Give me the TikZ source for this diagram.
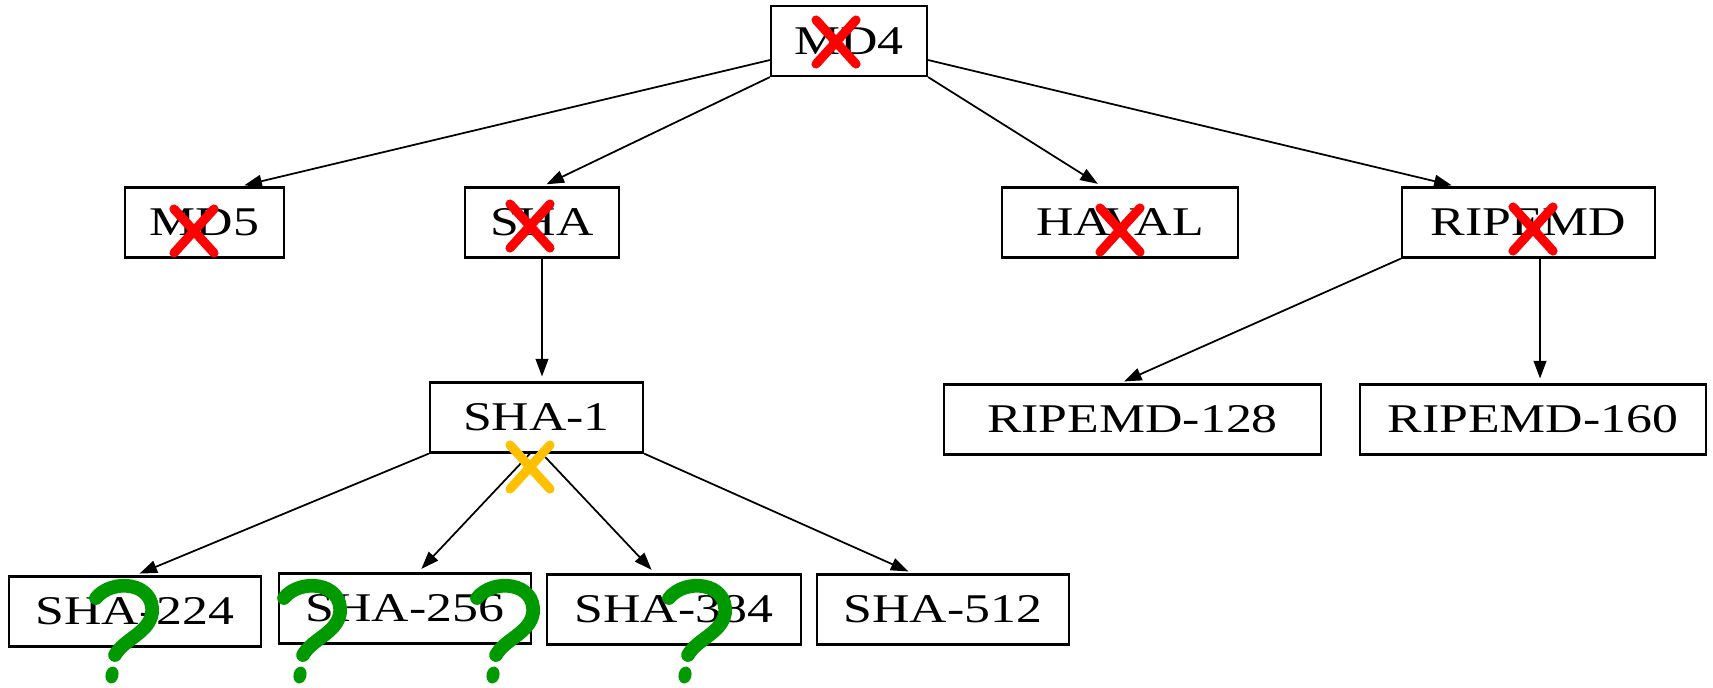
\documentclass[tikz,border=0pt]{standalone}
\usepackage{fontspec}
\setmainfont{Liberation Serif}[FakeStretch=1.27]
\usepackage{xcolor}
\usetikzlibrary{arrows.meta, positioning, calc}

\definecolor{nogo}{HTML}{FF0000}
\definecolor{weak}{HTML}{FFC000}
\definecolor{open}{HTML}{009A00}

\begin{document}
\begin{tikzpicture}[x=0.01cm, y=-0.01cm,
    algo/.style={draw, line width=0.6pt, inner sep=0pt, minimum height=0.7cm,
      font=\fontsize{11.6pt}{13pt}\selectfont},
    link/.style={-{Triangle[length=5pt,width=3.6pt]}, line width=0.5pt, shorten >=1.4pt},
    cross/.pic={\draw[line width=2.6pt, line cap=round] (-20,-22) -- (20,22) (-20,22) -- (20,-22);},
    query/.pic={\draw[line width=3.9pt, line cap=round] (-16,-77) .. controls (0,-97) and (43,-93) .. (40,-62)
      .. controls (37,-42) and (12,-36) .. (3,-20);
      \fill[rotate=-12] (0,0) ellipse (0.065cm and 0.085cm);}]
  \useasboundingbox (0,0) rectangle (1713,687);

  \node[algo, minimum width=1.56cm] (md4) at (849,41) {MD4};
  \node[algo, minimum width=1.59cm] (md5) at (204.5,222.5) {MD5};
  \node[algo, minimum width=1.54cm] (sha) at (542,222.5) {SHA};
  \node[algo, minimum width=2.36cm] (haval) at (1120,222.5) {HAVAL};
  \node[algo, minimum width=2.53cm] (ripemd) at (1528.5,222.5) {RIPEMD};
  \node[algo, minimum width=2.13cm] (sha1) at (536.5,417.5) {SHA-1};
  \node[algo, minimum width=3.77cm] (ripemd128) at (1132.5,419.5) {RIPEMD-128};
  \node[algo, minimum width=3.46cm] (ripemd160) at (1533,419.5) {RIPEMD-160};
  \node[algo, minimum width=2.52cm] (sha224) at (135,611.5) {SHA-224};
  \node[algo, minimum width=2.52cm] (sha256) at (405,608.5) {SHA-256};
  \node[algo, minimum width=2.54cm] (sha384) at (674,609.5) {SHA-384};
  \node[algo, minimum width=2.52cm] (sha512) at (943,609.5) {SHA-512};

  \draw[link] ([yshift=-0.19cm]md4.west) -- ([xshift=0.35cm]md5.north);
  \draw[link] (md4.south west) -- (sha.north);
  \draw[link] (md4.south east) -- ([xshift=-0.18cm]haval.north);
  \draw[link] ([yshift=-0.19cm]md4.east) -- ([xshift=-0.72cm]ripemd.north);
  \draw[link] (sha.south) -- (sha.south |- sha1.north);
  \draw[link] (ripemd.south west) -- ([xshift=-0.13cm]ripemd128.north);
  \draw[link] ([xshift=0.115cm]ripemd.south) -- ([xshift=0.115cm]ripemd.south |- ripemd160.north);
  \draw[link] (sha1.south west) -- (sha224.north);
  \draw[link] ([xshift=-0.065cm]sha1.south) -- ([xshift=0.13cm]sha256.north);
  \draw[link] ([xshift=0.055cm]sha1.south) -- ([xshift=-0.19cm]sha384.north);
  \draw[link] (sha1.south east) -- ([xshift=-0.30cm]sha512.north);

  \pic[nogo] at (836,42) {cross};
  \pic[nogo] at (194,231) {cross};
  \pic[nogo] at (530,226) {cross};
  \pic[nogo] at (1120,230) {cross};
  \pic[nogo] at (1533,229) {cross};
  \pic[weak] at (530,467) {cross};

  \pic[open] at (112,675) {query};
  \pic[open] at (300,675) {query};
  \pic[open] at (493,675) {query};
  \pic[open] at (685,675) {query};
\end{tikzpicture}
\end{document}
